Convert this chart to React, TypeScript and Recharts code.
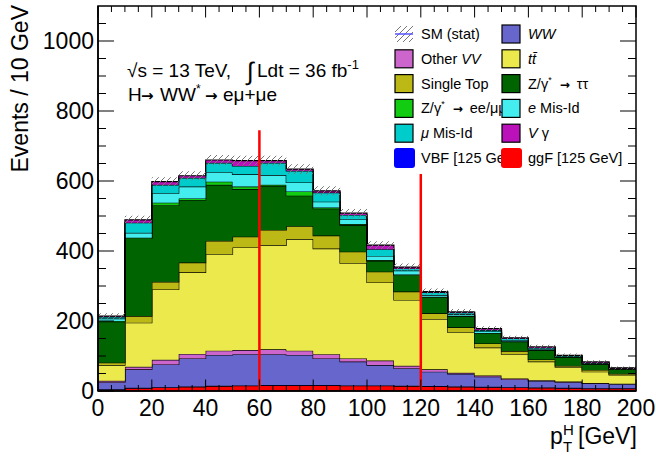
import type { ReactNode } from 'react';
import { Area, AreaChart, Legend, ReferenceArea, ReferenceLine, XAxis, YAxis } from 'recharts';

const FONT = '"Liberation Sans", Arial, Helvetica, sans-serif';
const ARROW_FONT = '"DejaVu Sans", sans-serif';

// bin edges of the p_T^H histogram (10 GeV bins)
const BIN_EDGES = [0, 10, 20, 30, 40, 50, 60, 70, 80, 90, 100, 110, 120, 130, 140, 150, 160, 170, 180, 190, 200];

// per-bin yields, stacked bottom to top
const GGF = [4, 8, 10, 12, 14, 15, 16, 16, 16, 15, 15, 14, 13, 12, 11, 10, 9, 8, 7, 7];
const VBF = [1, 1, 1, 1, 1, 1, 1, 1, 1, 1, 1, 1, 1, 1, 1, 1, 1, 1, 1, 1];
const WW = [20, 53, 65, 80, 88, 89, 88, 86, 76, 68, 58, 50, 41, 36, 29, 22, 19, 16, 14, 12];
const OTHER_VV = [4, 7, 13, 13, 12, 12, 14, 12, 12, 9, 13, 7, 7, 3, 3, 3, 2, 2, 1, 1];
const TTBAR = [45, 126, 201, 233, 276, 293, 298, 319, 302, 272, 223, 188, 143, 116, 80, 69, 53, 41, 32, 25];
const SINGLE_TOP = [7, 19, 22, 28, 38, 31, 43, 37, 37, 33, 31, 24, 17, 14, 12, 9, 6, 4, 5, 3];
const Z_TAUTAU = [117, 222, 219, 179, 160, 136, 126, 87, 77, 76, 31, 47, 46, 32, 29, 27, 27, 24, 17, 13];
const Z_EEMUMU = [2, 2, 7, 4, 9, 7, 3, 12, 3, 3, 2, 2, 1, 1, 1, 1, 1, 1, 1, 1];
const E_MISID = [7, 14, 27, 34, 27, 35, 28, 26, 17, 14, 12, 11, 5, 4, 4, 3, 2, 1, 1, 1];
const MU_MISID = [5, 29, 24, 25, 27, 24, 35, 33, 26, 12, 19, 6, 8, 5, 4, 5, 3, 2, 2, 1];
const V_GAMMA = [2, 8, 9, 6, 8, 15, 6, 5, 5, 5, 12, 4, 2, 2, 4, 2, 3, 2, 2, 1];
const STAT_ERR = [8, 12, 13, 13, 14, 14, 14, 14, 13, 12, 11, 10, 9, 8, 7, 6, 6, 5, 5, 4];

// the two vertical markers
const CUT_X = [60, 120];
const CUT_TOP = [745, 620];

const X_TICKS = [0, 5, 10, 15, 20, 25, 30, 35, 40, 45, 50, 55, 60, 65, 70, 75, 80, 85, 90, 95, 100,
  105, 110, 115, 120, 125, 130, 135, 140, 145, 150, 155, 160, 165, 170, 175, 180, 185, 190, 195, 200];
const X_LABELS = [0, 20, 40, 60, 80, 100, 120, 140, 160, 180, 200];
const Y_TICKS = [0, 50, 100, 150, 200, 250, 300, 350, 400, 450, 500, 550, 600, 650, 700, 750, 800,
  850, 900, 950, 1000, 1050];
const Y_LABELS = [0, 200, 400, 600, 800, 1000];
const Y_MAX = 1100;

const SERIES = [
  { key: 'ggF', data: GGF, color: '#ff0000' },
  { key: 'vbf', data: VBF, color: '#0000ff' },
  { key: 'ww', data: WW, color: '#6666cc' },
  { key: 'otherVV', data: OTHER_VV, color: '#cc66cc' },
  { key: 'ttbar', data: TTBAR, color: '#ebe94b' },
  { key: 'singleTop', data: SINGLE_TOP, color: '#bcb816' },
  { key: 'zTauTau', data: Z_TAUTAU, color: '#006400' },
  { key: 'zEeMuMu', data: Z_EEMUMU, color: '#11cc11' },
  { key: 'eMisId', data: E_MISID, color: '#44eeee' },
  { key: 'muMisId', data: MU_MISID, color: '#00cccc' },
  { key: 'vGamma', data: V_GAMMA, color: '#bb11bb' },
];

const COLOR = Object.fromEntries(SERIES.map((s) => [s.key, s.color]));

const W = 656;
const H = 466;
const PLOT_W = 538;
const PLOT_H = 385;

// histogram rows at the bin edges; the last edge repeats the last bin so the step closes at 200
const rows = BIN_EDGES.map((edge, i) => {
  const b = Math.min(i, GGF.length - 1);
  const row: Record<string, number | number[]> = { x: edge };
  let total = 0;
  for (const s of SERIES) {
    row[s.key] = s.data[b];
    total += s.data[b];
  }
  row.stat = [total - STAT_ERR[b], total + STAT_ERR[b]];
  return row;
});

function XTick(props: any) {
  const { x, y, payload } = props;
  const major = X_LABELS.includes(payload.value);
  const len = major ? 11.5 : 6;
  return (
    <g>
      <line x1={x} y1={y} x2={x} y2={y - len} stroke="#000" strokeWidth={1} />
      <line x1={x} y1={y - PLOT_H} x2={x} y2={y - PLOT_H + len} stroke="#000" strokeWidth={1} />
      {major && (
        <text x={x} y={y + 25} textAnchor="middle" fontSize={23} fontFamily={FONT} fill="#000">
          {payload.value}
        </text>
      )}
    </g>
  );
}

function YTick(props: any) {
  const { x, y, payload } = props;
  const major = Y_LABELS.includes(payload.value);
  const len = major ? 16 : 8;
  return (
    <g>
      <line x1={x} y1={y} x2={x + len} y2={y} stroke="#000" strokeWidth={1} />
      <line x1={x + PLOT_W} y1={y} x2={x + PLOT_W - len} y2={y} stroke="#000" strokeWidth={1} />
      {major && (
        <text x={x - 4} y={y + 8} textAnchor="end" fontSize={23} fontFamily={FONT} fill="#000">
          {payload.value}
        </text>
      )}
    </g>
  );
}

const arrow = (size: number) => (
  <tspan fontFamily={ARROW_FONT} fontWeight="bold" fontSize={size}>→</tspan>
);

type LegendEntry = { key: string; label: ReactNode; solid?: boolean };

const LEGEND_ROWS: [LegendEntry, LegendEntry][] = [
  [{ key: 'stat', label: 'SM (stat)' }, { key: 'ww', label: <tspan fontStyle="italic">WW</tspan> }],
  [
    { key: 'otherVV', label: <>Other <tspan fontStyle="italic">VV</tspan></> },
    { key: 'ttbar', label: <tspan fontStyle="italic">tt̄</tspan> },
  ],
  [
    { key: 'singleTop', label: 'Single Top' },
    {
      key: 'zTauTau',
      label: <>Z/γ<tspan dy={-6} fontSize={9}>*</tspan><tspan dy={6} dx={4}>{' '}</tspan>{arrow(12)}<tspan dx={7}>ττ</tspan></>,
    },
  ],
  [
    {
      key: 'zEeMuMu',
      label: <>Z/γ<tspan dy={-6} fontSize={9}>*</tspan><tspan dy={6} dx={4}>{' '}</tspan>{arrow(12)}<tspan dx={7}>ee/μμ</tspan></>,
    },
    { key: 'eMisId', label: <><tspan fontStyle="italic">e</tspan> Mis-Id</> },
  ],
  [
    { key: 'muMisId', label: <><tspan fontStyle="italic">μ</tspan> Mis-Id</> },
    { key: 'vGamma', label: <><tspan fontStyle="italic">V</tspan> γ</> },
  ],
  [
    { key: 'vbf', label: 'VBF [125 GeV]', solid: true },
    { key: 'ggF', label: 'ggF [125 GeV]', solid: true },
  ],
];

function LegendIcon({ entry, x, y }: { entry: LegendEntry; x: number; y: number }) {
  if (entry.key === 'stat') {
    return (
      <g>
        <rect x={x} y={y - 8} width={18} height={16} fill="url(#hatch)" />
        <line x1={x} y1={y} x2={x + 18} y2={y} stroke="#5555ff" strokeWidth={1.5} />
      </g>
    );
  }
  if (entry.solid) {
    return <rect x={x - 1} y={y - 10} width={21} height={20} rx={3} fill={COLOR[entry.key]} />;
  }
  return (
    <rect x={x} y={y - 9} width={18} height={18} fill={COLOR[entry.key]} stroke="#000" strokeWidth={1.2} />
  );
}

function LegendBox() {
  return (
    <svg width={250} height={150} style={{ display: 'block', overflow: 'visible' }}>
      {LEGEND_ROWS.map((row, i) => {
        const cy = 12 + i * 24.8;
        return (
          <g key={i} fontFamily={FONT} fontSize={14.5} fill="#000">
            <LegendIcon entry={row[0]} x={2} y={cy} />
            <text x={28} y={cy + 5}>{row[0].label}</text>
            <LegendIcon entry={row[1]} x={109} y={cy} />
            <text x={135} y={cy + 5}>{row[1].label}</text>
          </g>
        );
      })}
    </svg>
  );
}

export default function App() {
  return (
    <div style={{ position: 'absolute', left: 0, top: 0, width: W, height: H, background: '#fff' }}>
      <AreaChart width={W} height={H} data={rows} margin={{ top: 6, right: 20, bottom: 0, left: 0 }}>
        <defs>
          <pattern id="hatch" patternUnits="userSpaceOnUse" width={6} height={6}>
            <line x1={0} y1={6} x2={6} y2={0} stroke="#777" strokeWidth={1} />
          </pattern>
        </defs>
        {SERIES.map((s) => (
          <Area
            key={s.key}
            type="stepAfter"
            dataKey={s.key}
            stackId="bkg"
            fill={s.color}
            fillOpacity={1}
            stroke="#000"
            strokeWidth={1.2}
            dot={false}
            activeDot={false}
            isAnimationActive={false}
          />
        ))}
        <Area
          type="stepAfter"
          dataKey="stat"
          fill="url(#hatch)"
          fillOpacity={1}
          stroke="none"
          dot={false}
          activeDot={false}
          isAnimationActive={false}
        />
        {CUT_X.map((cx, i) => (
          <ReferenceLine
            key={cx}
            segment={[{ x: cx, y: 0 }, { x: cx, y: CUT_TOP[i] }]}
            stroke="#ff0000"
            strokeWidth={2.5}
          />
        ))}
        <ReferenceArea x1={0} x2={200} y1={0} y2={Y_MAX} fill="none" stroke="#000" strokeWidth={1.5} />
        <XAxis
          dataKey="x"
          type="number"
          domain={[0, 200]}
          ticks={X_TICKS}
          interval={0}
          height={75}
          tickSize={0}
          tickMargin={0}
          tickLine={false}
          axisLine={{ stroke: '#000', strokeWidth: 1.5 }}
          tick={<XTick />}
        />
        <YAxis
          type="number"
          domain={[0, Y_MAX]}
          ticks={Y_TICKS}
          interval={0}
          width={98}
          tickSize={0}
          tickMargin={0}
          tickLine={false}
          axisLine={{ stroke: '#000', strokeWidth: 1.5 }}
          tick={<YTick />}
        />
        <Legend
          layout="horizontal"
          verticalAlign="middle"
          align="center"
          wrapperStyle={{ left: 393, top: 22, width: 250, height: 150 }}
          content={<LegendBox />}
        />
      </AreaChart>
      <svg
        width={W}
        height={H}
        style={{ position: 'absolute', left: 0, top: 0, pointerEvents: 'none' }}
        fontFamily={FONT}
        fill="#000"
      >
        <text x={28} y={5} transform="rotate(-90, 28, 5)" textAnchor="end" fontSize={23}>
          Events / 10 GeV
        </text>
        <text x={550} y={444} fontSize={23}>
          p
          <tspan x={563} y={435} fontSize={15}>H</tspan>
          <tspan x={563} y={452} fontSize={15}>T</tspan>
          <tspan x={578} y={444}>[GeV]</tspan>
        </text>
        <text x={127} y={77} fontSize={19}>
          √s = 13 TeV,
          <tspan x={247} y={80} fontSize={25}>∫</tspan>
          <tspan x={257} y={77}>Ldt = 36 fb</tspan>
          <tspan dy={-8} fontSize={13}>-1</tspan>
        </text>
        <text x={128} y={101} fontSize={19}>
          H
          <tspan x={141} fontFamily={ARROW_FONT} fontWeight="bold" fontSize={15}>→</tspan>
          <tspan x={160}>WW</tspan>
          <tspan dy={-8} fontSize={12}>*</tspan>
          <tspan x={205} dy={8} fontFamily={ARROW_FONT} fontWeight="bold" fontSize={15}>→</tspan>
          <tspan x={223}>eμ+μe</tspan>
        </text>
      </svg>
    </div>
  );
}
